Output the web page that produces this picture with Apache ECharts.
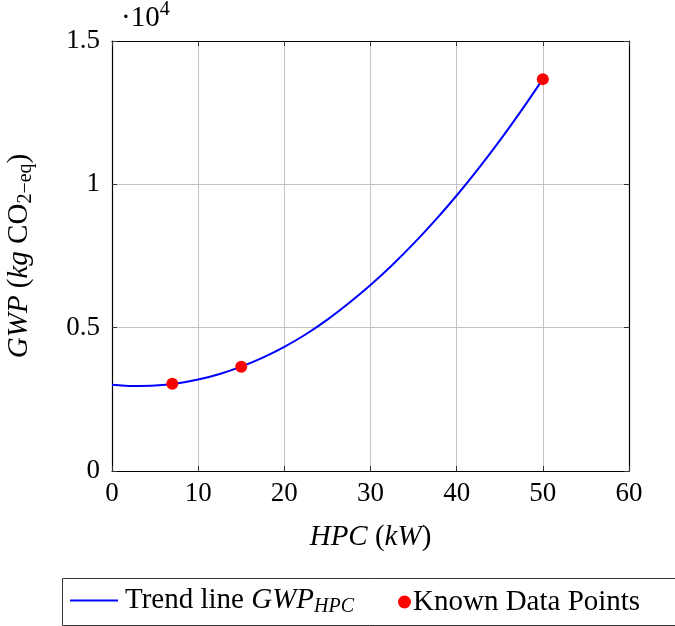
<!DOCTYPE html>
<html>
<head>
<meta charset="utf-8">
<script src="https://cdn.jsdelivr.net/npm/echarts@6/dist/echarts.min.js"></script>
<style>
  html, body { margin: 0; padding: 0; background: #fff; }
  #chart { width: 675px; height: 626px; }
</style>
</head>
<body>
<div id="chart"></div>
<script>
// Trend line of GWP versus heat pump capacity (HPC)
const trendX = [0, 2.5, 5, 7.5, 10, 12.5, 15, 17.5, 20, 22.5, 25, 27.5, 30, 32.5, 35, 37.5, 40, 42.5, 45, 47.5, 50];
const trendY = [3010, 2965, 2980, 3055, 3190, 3385, 3640, 3955, 4330, 4770, 5280, 5860, 6490, 7180, 7930, 8740, 9610, 10540, 11525, 12570, 13670];

// Known data points
const knownX = [7, 15, 50];
const knownY = [3040, 3640, 13670];

// Axis ticks
const xTicks = [0, 10, 20, 30, 40, 50, 60];
const yTicks = [0, 5000, 10000, 15000];
const yScale = 10000;

const FONT = 'Liberation Serif';
const FS = 27;
const NFS = 29;

const chart = echarts.init(document.getElementById('chart'));

const trendData = trendX.map((x, i) => [x, trendY[i]]);
const knownData = knownX.map((x, i) => [x, knownY[i]]);

const tickStyle = { show: true, inside: true, length: 5, lineStyle: { color: '#333', width: 1 } };
const frameLine = { show: true, onZero: false, lineStyle: { color: '#000', width: 1.2 } };
const gridLine = { show: true, lineStyle: { color: '#c4c4c4', width: 1 } };

chart.setOption({
  animation: false,
  backgroundColor: '#fff',
  textStyle: { fontFamily: FONT },
  grid: { left: 112, right: 46, top: 41, bottom: 155, containLabel: false, outerBoundsMode: 'none' },
  xAxis: [{
    type: 'value',
    min: xTicks[0], max: xTicks[xTicks.length - 1], interval: 10,
    axisLine: frameLine,
    axisTick: tickStyle,
    splitLine: gridLine,
    axisLabel: { fontFamily: FONT, fontSize: FS, color: '#000', margin: 9 },
    name: '{i|HPC }{n|(}{i|kW}{n|)}',
    nameLocation: 'middle',
    nameGap: 52,
    nameTextStyle: {
      rich: {
        i: { fontFamily: FONT, fontSize: NFS, fontStyle: 'italic', color: '#000' },
        n: { fontFamily: FONT, fontSize: NFS, color: '#000' }
      }
    }
  }, {
    type: 'value', position: 'top',
    min: xTicks[0], max: xTicks[xTicks.length - 1], interval: 10,
    axisLine: frameLine, axisTick: tickStyle,
    axisLabel: { show: false }, splitLine: { show: false }
  }],
  yAxis: [{
    type: 'value',
    min: yTicks[0], max: yTicks[yTicks.length - 1], interval: 5000,
    axisLine: frameLine,
    axisTick: tickStyle,
    splitLine: gridLine,
    axisLabel: {
      fontFamily: FONT, fontSize: FS, color: '#000', margin: 12,
      formatter: v => String(v / yScale)
    },
    name: '{i|GWP }{n|(}{i|kg }{n|CO}{s|2−eq}{n|)}',
    nameLocation: 'middle',
    nameGap: 76,
    nameTextStyle: {
      rich: {
        i: { fontFamily: FONT, fontSize: NFS, fontStyle: 'italic', color: '#000', lineHeight: 34 },
        n: { fontFamily: FONT, fontSize: NFS, color: '#000', lineHeight: 34 },
        s: { fontFamily: FONT, fontSize: 20, color: '#000', lineHeight: 20, verticalAlign: 'bottom' }
      }
    }
  }, {
    type: 'value', position: 'right',
    min: yTicks[0], max: yTicks[yTicks.length - 1], interval: 5000,
    axisLine: frameLine, axisTick: tickStyle,
    axisLabel: { show: false }, splitLine: { show: false }
  }],
  legend: [{
    data: [{ name: 'trend', icon: 'rect' }],
    left: 70, top: 586,
    padding: 0,
    itemWidth: 48, itemHeight: 2,
    formatter: () => '{n|Trend line }{i|GWP}{s|HPC}',
    textStyle: {
      padding: [0, 0, 0, 2],
      rich: {
        n: { fontFamily: FONT, fontSize: NFS, color: '#000', lineHeight: 32 },
        i: { fontFamily: FONT, fontSize: NFS, fontStyle: 'italic', color: '#000', lineHeight: 32 },
        s: { fontFamily: FONT, fontSize: 20, fontStyle: 'italic', color: '#000', lineHeight: 20, verticalAlign: 'bottom' }
      }
    }
  }, {
    data: [{ name: 'known', icon: 'circle' }],
    left: 398, top: 586,
    padding: 0,
    itemWidth: 13, itemHeight: 13,
    formatter: () => 'Known Data Points',
    textStyle: { fontFamily: FONT, fontSize: NFS, color: '#000', padding: [0, 0, 0, -3], lineHeight: 32 }
  }],
  graphic: [{
    type: 'rect',
    shape: { x: 62.5, y: 578.5, width: 620, height: 47 },
    style: { fill: 'none', stroke: '#333', lineWidth: 1 },
    silent: true
  }, {
    type: 'text',
    left: 121, top: 0,
    style: {
      text: '{n|·10}{p|4}',
      rich: {
        n: { fontFamily: FONT, fontSize: 29, fill: '#000', lineHeight: 37 },
        p: { fontFamily: FONT, fontSize: 20, fill: '#000', lineHeight: 20, verticalAlign: 'top' }
      }
    }
  }],
  series: [{
    name: 'trend',
    type: 'line',
    data: trendData,
    smooth: 0.3,
    symbol: 'none',
    lineStyle: { color: '#0000ff', width: 2 },
    itemStyle: { color: '#0000ff' },
    z: 2
  }, {
    name: 'known',
    type: 'scatter',
    data: knownData,
    symbol: 'circle',
    symbolSize: 12,
    itemStyle: { color: '#ff0000', opacity: 1 },
    z: 3
  }]
});
</script>
</body>
</html>
